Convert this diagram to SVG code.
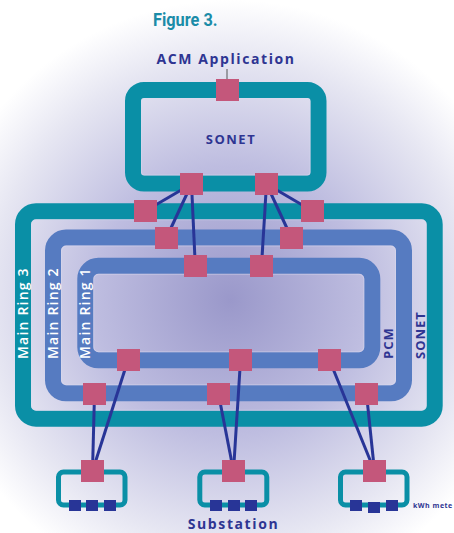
<svg xmlns="http://www.w3.org/2000/svg" width="454" height="533" viewBox="0 0 454 533">
<defs>
<radialGradient id="bg" cx="230" cy="300" r="300" gradientUnits="userSpaceOnUse">
<stop offset="0" stop-color="#9a98ca"/>
<stop offset="0.45" stop-color="#bebde0"/>
<stop offset="0.8" stop-color="#e6e6f2"/>
<stop offset="1" stop-color="#ffffff"/>
</radialGradient>
<style>
.teal{fill:none;stroke:#0a8fa6;stroke-width:16}
.blue{fill:none;stroke:#567bc1;stroke-width:16}
.edge{fill:none;stroke:#dcdcf0;stroke-width:1;opacity:0.45}
.sq{fill:#c4577b}
.mtr{fill:#283597}
.sub{fill:none;stroke:#0a8fa6;stroke-width:5}
.ln{stroke:#283597;stroke-width:3;fill:none}
.lbl{font-family:"Open Sans","DejaVu Sans",sans-serif;font-weight:700;fill:#2e3592}
.ring{font-family:"Open Sans","DejaVu Sans",sans-serif;font-weight:600;fill:#ffffff;font-size:14px;letter-spacing:1.2px}
</style>
</defs>
<rect x="0" y="0" width="454" height="533" fill="url(#bg)"/>
<text x="153" y="26" transform="translate(153 0) scale(0.86 1) translate(-153 0)" font-family="Roboto, 'Liberation Sans', sans-serif" font-weight="700" font-size="19" fill="#1b8ca8">Figure 3.</text>
<g id="acm">
<text class="lbl" x="226" y="64" font-size="14" letter-spacing="1.6" text-anchor="middle" font-weight="600">ACM Application</text>
<line x1="227" y1="69" x2="227" y2="80" stroke="#555" stroke-width="1"/>
</g>
<g id="top-sonet">
<rect class="teal" x="133" y="90" width="185.5" height="93.5" rx="11"/>
<rect class="edge" x="141.5" y="98.5" width="168.5" height="76.5" rx="3"/>
<text class="lbl" x="231" y="144" font-size="13" letter-spacing="1.5" text-anchor="middle" font-weight="600">SONET</text>
</g>
<g id="ring3">
<rect class="teal" x="23" y="211.3" width="411.7" height="207.4" rx="13"/>
<rect class="edge" x="31.5" y="219.8" width="394.7" height="190.4" rx="5"/>
<text class="ring" transform="translate(28 359) rotate(-90)">Main Ring 3</text>
</g>
<g id="ring2">
<rect class="blue" x="53" y="237.5" width="351" height="155.8" rx="13"/>
<rect class="edge" x="61.5" y="246" width="334" height="138.8" rx="5"/>
<text class="ring" transform="translate(58 359) rotate(-90)">Main Ring 2</text>
</g>
<g id="ring1">
<rect class="blue" x="85.3" y="265.8" width="287" height="94.5" rx="13"/>
<rect class="edge" x="93.8" y="274.3" width="270" height="77.5" rx="5"/>
<text class="ring" transform="translate(90 359) rotate(-90)">Main Ring 1</text>
</g>
<text class="lbl" transform="translate(393 359) rotate(-90)" font-size="13" letter-spacing="1" font-weight="700">PCM</text>
<text class="lbl" transform="translate(425 359) rotate(-90)" font-size="13" letter-spacing="1" font-weight="700">SONET</text>
<g id="connectors">
<line class="ln" x1="191.5" y1="184" x2="145.3" y2="211"/>
<line class="ln" x1="191.5" y1="184" x2="166.3" y2="238"/>
<line class="ln" x1="191.5" y1="184" x2="195.3" y2="266"/>
<line class="ln" x1="266.5" y1="184" x2="312.5" y2="211"/>
<line class="ln" x1="266.5" y1="184" x2="291.5" y2="238"/>
<line class="ln" x1="266.5" y1="184" x2="261.5" y2="266"/>
<line class="ln" x1="92.5" y1="471" x2="94.5" y2="394"/>
<line class="ln" x1="92.5" y1="471" x2="128" y2="360"/>
<line class="ln" x1="233.5" y1="471" x2="218.5" y2="394"/>
<line class="ln" x1="233.5" y1="471" x2="240.5" y2="360"/>
<line class="ln" x1="374.5" y1="471" x2="329.5" y2="360"/>
<line class="ln" x1="374.5" y1="471" x2="366.5" y2="394"/>
</g>
<g id="nodes">
<rect class="sq" x="216" y="79" width="23" height="22"/>
<rect class="sq" x="180" y="173" width="23" height="22"/>
<rect class="sq" x="255" y="173" width="23" height="22"/>
<rect class="sq" x="134" y="200" width="23" height="22"/>
<rect class="sq" x="301" y="200" width="23" height="22"/>
<rect class="sq" x="155" y="227" width="23" height="22"/>
<rect class="sq" x="280" y="227" width="23" height="22"/>
<rect class="sq" x="184" y="255" width="23" height="22"/>
<rect class="sq" x="250" y="255" width="23" height="22"/>
<rect class="sq" x="117" y="349" width="23" height="22"/>
<rect class="sq" x="229" y="349" width="23" height="22"/>
<rect class="sq" x="318" y="349" width="23" height="22"/>
<rect class="sq" x="83" y="383" width="23" height="22"/>
<rect class="sq" x="207" y="383" width="23" height="22"/>
<rect class="sq" x="355" y="383" width="23" height="22"/>
</g>
<g id="substation1">
<rect class="sub" x="58.5" y="472" width="66.5" height="33" rx="5"/>
<rect class="sq" x="81" y="460" width="23" height="22"/>
<rect class="mtr" x="69" y="500" width="12" height="11"/>
<rect class="mtr" x="86" y="500" width="12" height="11"/>
<rect class="mtr" x="104" y="500" width="12" height="11"/>
</g>
<g id="substation2">
<rect class="sub" x="199.8" y="472" width="67" height="33" rx="5"/>
<rect class="sq" x="222" y="460" width="23" height="22"/>
<rect class="mtr" x="210" y="500" width="12" height="11"/>
<rect class="mtr" x="228" y="500" width="12" height="11"/>
<rect class="mtr" x="245" y="500" width="12" height="11"/>
</g>
<g id="substation3">
<rect class="sub" x="340.5" y="472" width="66.5" height="33" rx="5"/>
<rect class="sq" x="363" y="460" width="23" height="22"/>
<rect class="mtr" x="350" y="500" width="12" height="11"/>
<rect class="mtr" x="368" y="502" width="12" height="11"/>
<rect class="mtr" x="386" y="500" width="12" height="11"/>
</g>
<text class="lbl" x="413" y="508" font-size="7" letter-spacing="0.5">kWh mete</text>
<text class="lbl" x="233.5" y="529" font-size="14" letter-spacing="1.6" text-anchor="middle" font-weight="600">Substation</text>
</svg>
